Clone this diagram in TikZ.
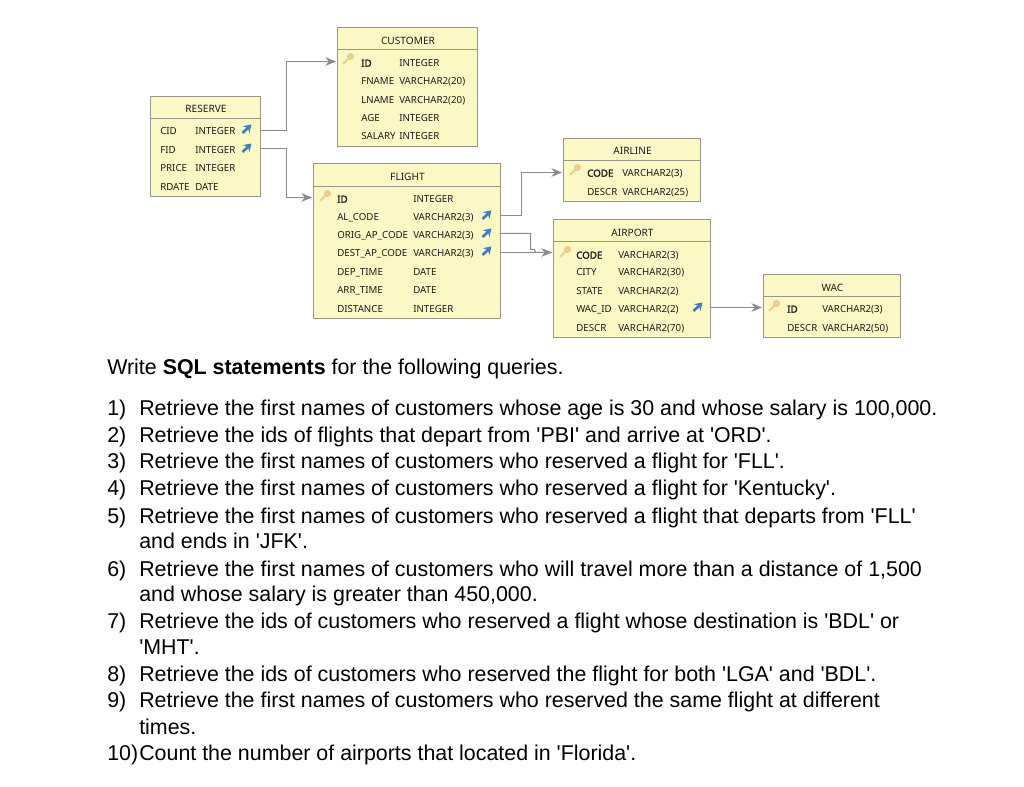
\documentclass[tikz,border=0pt]{standalone}
\usepackage{fontspec}
\newfontfamily\bodyfont{Liberation Sans}
\newfontfamily\erfont{Noto Sans}
\newfontfamily\erbold[FakeBold=2]{Noto Sans}
\definecolor{erfill}{HTML}{FCF8C6}
\definecolor{erline}{HTML}{97978A}
\definecolor{linkgray}{HTML}{8C8C8C}
\definecolor{keygold}{HTML}{EBCF8E}
\definecolor{fkblue}{HTML}{3F7FBE}
\definecolor{ertext}{HTML}{1C1C1C}
\usetikzlibrary{arrows.meta}
\tikzset{
  tablebox/.style={draw=erline, line width=0.75pt, fill=erfill, inner sep=0pt, anchor=north west},
  headline/.style={draw=erline, line width=0.75pt},
  tabletitle/.style={font=\erfont\fontsize{7.6}{9}\selectfont, text=ertext, inner sep=0pt},
  rowtext/.style={font=\erfont\fontsize{7.3}{9}\selectfont, text=ertext, inner sep=0pt, anchor=mid west, yshift=-0.6pt},
  keytext/.style={rowtext, font=\erbold\fontsize{7.3}{9}\selectfont},
  linkline/.style={draw=linkgray, line width=0.75pt, -{Stealth[length=8pt,width=6.5pt,inset=2.5pt]}},
  plainline/.style={draw=linkgray, line width=0.75pt},
  bodytext/.style={font=\bodyfont\fontsize{16.05}{19}\selectfont, text=black, inner sep=0pt, anchor=base west},
  keyicon/.pic={
    \draw[keygold, line width=1.5pt] (-5,5) -- (1,-1);
    \fill[keygold] (2.5,-2.5) circle (3.6);
  },
  fkicon/.pic={
    \draw[fkblue, line width=2pt, -{Stealth[length=5.5pt,width=7pt]}] (-4.5,4) -- (4.5,-4.5);
  }
}
\begin{document}
\begin{tikzpicture}[x=0.75pt, y=-0.75pt]
  \useasboundingbox[fill=white] (0,0) rectangle (1024,787);

  % tables
  \node[tablebox, minimum width=105pt, minimum height=89.25pt] (customer) at (336.5,27.5) {};
  \draw[headline] (336.5,49.5) -- (476.5,49.5);
  \node[tabletitle] (customertitle) at (408,40.5) {CUSTOMER};
  \node[tablebox, minimum width=82.5pt, minimum height=75pt] (reserve) at (149.5,96.5) {};
  \draw[headline] (149.5,118.5) -- (259.5,118.5);
  \node[tabletitle] (reservetitle) at (206,109) {RESERVE};
  \node[tablebox, minimum width=140.25pt, minimum height=116.25pt] (flight) at (312.5,163.5) {};
  \draw[headline] (312.5,186.5) -- (499.5,186.5);
  \node[tabletitle] (flighttitle) at (407.5,176.5) {FLIGHT};
  \node[tablebox, minimum width=102.75pt, minimum height=47.25pt] (airline) at (562.5,138.5) {};
  \draw[headline] (562.5,160.5) -- (699.5,160.5);
  \node[tabletitle] (airlinetitle) at (632.5,151) {AIRLINE};
  \node[tablebox, minimum width=117.75pt, minimum height=88.5pt] (airport) at (552.5,219.5) {};
  \draw[headline] (552.5,241.5) -- (709.5,241.5);
  \node[tabletitle] (airporttitle) at (632.5,232.5) {AIRPORT};
  \node[tablebox, minimum width=102.75pt, minimum height=47.25pt] (wac) at (762.5,274.5) {};
  \draw[headline] (762.5,296.5) -- (899.5,296.5);
  \node[tabletitle] (wactitle) at (832.5,287.5) {WAC};

  % rows
  \foreach \rowy/\colname/\coltype in {81/FNAME/VARCHAR2(20),100/LNAME/VARCHAR2(20),118/AGE/INTEGER,136/SALARY/INTEGER} {
    \node[rowtext] (customer-n\rowy) at (361,\rowy) {\colname};
    \node[rowtext] (customer-t\rowy) at (399,\rowy) {\coltype};
  }
  \node[keytext] (customer-n63) at (361,63) {ID};
  \node[rowtext] (customer-t63) at (399,63) {INTEGER};

  \foreach \rowy/\colname/\coltype in {131/CID/INTEGER,150/FID/INTEGER,168/PRICE/INTEGER,187/RDATE/DATE} {
    \node[rowtext] (reserve-n\rowy) at (160,\rowy) {\colname};
    \node[rowtext] (reserve-t\rowy) at (195,\rowy) {\coltype};
  }

  \foreach \rowy/\colname/\coltype in {217/AL\_CODE/VARCHAR2(3),235/ORIG\_AP\_CODE/VARCHAR2(3),253/DEST\_AP\_CODE/VARCHAR2(3),272/DEP\_TIME/DATE,290/ARR\_TIME/DATE,309/DISTANCE/INTEGER} {
    \node[rowtext] (flight-n\rowy) at (337,\rowy) {\colname};
    \node[rowtext] (flight-t\rowy) at (413,\rowy) {\coltype};
  }
  \node[keytext] (flight-n199) at (337,199) {ID};
  \node[rowtext] (flight-t199) at (413,199) {INTEGER};

  \node[keytext] (airline-n173) at (587,173) {CODE};
  \node[rowtext] (airline-t173) at (622,173) {VARCHAR2(3)};
  \node[rowtext] (airline-n192) at (587,192) {DESCR};
  \node[rowtext] (airline-t192) at (622,192) {VARCHAR2(25)};

  \foreach \rowy/\colname/\coltype in {272/CITY/VARCHAR2(30),291/STATE/VARCHAR2(2),309/WAC\_ID/VARCHAR2(2),328/DESCR/VARCHAR2(70)} {
    \node[rowtext] (airport-n\rowy) at (576,\rowy) {\colname};
    \node[rowtext] (airport-t\rowy) at (618,\rowy) {\coltype};
  }
  \node[keytext] (airport-n255) at (576,255) {CODE};
  \node[rowtext] (airport-t255) at (618,255) {VARCHAR2(3)};

  \node[keytext] (wac-n309) at (787,309) {ID};
  \node[rowtext] (wac-t309) at (822,309) {VARCHAR2(3)};
  \node[rowtext] (wac-n328) at (787,328) {DESCR};
  \node[rowtext] (wac-t328) at (822,328) {VARCHAR2(50)};

  % icons
  \foreach \keyx/\keyy in {348/59,325/196,575/170,565/252,774/306}
    \pic at (\keyx,\keyy) {keyicon};
  \foreach \fkx/\fky in {247/129,247/148,487/215,487/233,487/251,698/307}
    \pic at (\fkx,\fky) {fkicon};

  % connectors
  \coordinate (cidout) at (259.5,130.5);
  \coordinate (fidout) at (259.5,148.5);
  \coordinate (custin) at (336,61.5);
  \coordinate (flightin) at (312,197.5);
  \coordinate (alout) at (499.5,215.5);
  \coordinate (airlinein) at (562,172.5);
  \coordinate (origout) at (499.5,233.5);
  \coordinate (destout) at (499.5,252.5);
  \coordinate (airportin) at (552,252.5);
  \coordinate (wacout) at (709.5,307.5);
  \coordinate (wacin) at (762,307.5);
  \draw[linkline] (cidout) -| (286.5,61.5) -- (custin);
  \draw[linkline] (fidout) -| (286.5,197.5) -- (flightin);
  \draw[linkline] (alout) -| (521.5,172.5) -- (airlinein);
  \draw[plainline] (origout) -| (530.5,249.5) -- (534.5,249.5) -- (535.5,252.5) -- (airportin);
  \draw[linkline] (destout) -- (airportin);
  \draw[linkline] (wacout) -- (wacin);

  % questions
  \node[bodytext] (intro) at (107,375) {Write \textbf{SQL statements} for the following queries.};
  \foreach \liney/\linenum/\linetext in {
    416/1)/{Retrieve the first names of customers whose age is 30 and whose salary is 100,000.},
    443/2)/{Retrieve the ids of flights that depart from 'PBI' and arrive at 'ORD'.},
    469/3)/{Retrieve the first names of customers who reserved a flight for 'FLL'.},
    495/4)/{Retrieve the first names of customers who reserved a flight for 'Kentucky'.},
    523/5)/{Retrieve the first names of customers who reserved a flight that departs from 'FLL'},
    576/6)/{Retrieve the first names of customers who will travel more than a distance of 1,500},
    628/7)/{Retrieve the ids of customers who reserved a flight whose destination is 'BDL' or},
    681/8)/{Retrieve the ids of customers who reserved the flight for both 'LGA' and 'BDL'.},
    707/9)/{Retrieve the first names of customers who reserved the same flight at different}} {
    \node[bodytext] (num\liney) at (107,\liney) {\linenum};
    \node[bodytext] (line\liney) at (139,\liney) {\linetext};
  }
  \foreach \liney/\linetext in {
    548/{and ends in 'JFK'.},
    601/{and whose salary is greater than 450,000.},
    654/{'MHT'.},
    734/{times.}} {
    \node[bodytext] (line\liney) at (139,\liney) {\linetext};
  }
  \node[bodytext] (num760) at (107,760) {10)};
  \node[bodytext] (line760) at (139,760) {Count the number of airports that located in 'Florida'.};
\end{tikzpicture}
\end{document}
